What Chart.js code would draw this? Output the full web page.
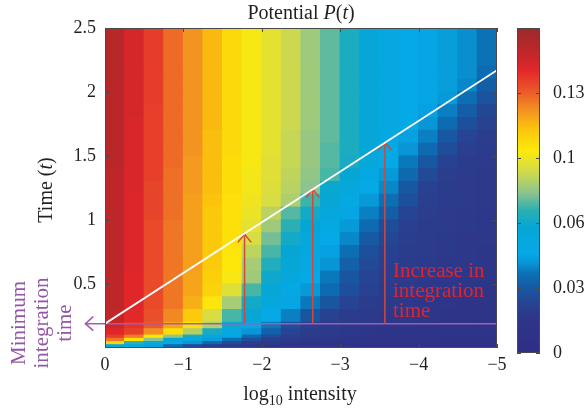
<!DOCTYPE html>
<html>
<head>
<meta charset="utf-8">
<script src="https://cdn.jsdelivr.net/npm/chart.js@4.4.1/dist/chart.umd.min.js"></script>
<style>
  html, body { margin: 0; padding: 0; background: #fff; }
  #wrap { position: relative; width: 586px; height: 414px; }
  canvas { position: absolute; left: 0; top: 0; }
</style>
</head>
<body>
<div id="wrap">
  <canvas id="field" width="586" height="414"></canvas>
  <canvas id="bar" width="586" height="414"></canvas>
</div>
<script>
// cell centres along log10 intensity (cells are 0.25 wide)
const intensityCols = [-0.125, -0.375, -0.625, -0.875, -1.125, -1.375, -1.625, -1.875, -2.125, -2.375,
                       -2.625, -2.875, -3.125, -3.375, -3.625, -3.875, -4.125, -4.375, -4.625, -4.875];
// band edges along time
const timeEdges = [0, 0.025, 0.05, 0.075, 0.1, 0.15, 0.2, 0.3, 0.4, 0.5, 0.6, 0.7, 0.8, 0.9, 1.0,
                   1.1, 1.2, 1.3, 1.4, 1.5, 1.6, 1.7, 1.8, 1.9, 2.0, 2.1, 2.2, 2.5];
// potential P(t) x 1000, first row = bottom band
const potentialRows = [
  [58, 54, 48, 37, 27, 22, 19, 17, 16, 15, 15, 14, 14, 13, 13, 13, 12, 12, 12, 12],
  [107, 71, 59, 52, 45, 37, 27, 22, 19, 17, 16, 16, 15, 15, 14, 14, 14, 13, 13, 13],
  [126, 104, 80, 63, 55, 47, 39, 29, 23, 20, 18, 17, 16, 16, 15, 15, 14, 14, 14, 13],
  [137, 125, 101, 81, 66, 57, 49, 37, 27, 22, 19, 18, 17, 16, 16, 15, 15, 15, 14, 14],
  [142, 136, 122, 105, 86, 67, 55, 45, 35, 25, 21, 19, 18, 17, 16, 16, 15, 15, 15, 14],
  [147, 139, 131, 118, 104, 86, 65, 53, 41, 29, 23, 20, 19, 18, 17, 17, 16, 16, 15, 15],
  [150, 141, 133, 123, 110, 92, 74, 61, 51, 42, 31, 24, 21, 19, 18, 17, 17, 16, 16, 15],
  [151, 142, 134, 126, 116, 103, 84, 66, 57, 49, 41, 31, 25, 21, 19, 18, 17, 17, 16, 16],
  [151, 142, 134, 126, 118, 108, 94, 74, 61, 53, 46, 38, 29, 24, 21, 19, 18, 17, 17, 16],
  [151, 142, 134, 126, 118, 109, 100, 83, 65, 57, 50, 41, 31, 25, 22, 20, 19, 18, 17, 17],
  [151, 143, 134, 126, 119, 110, 102, 84, 69, 61, 53, 45, 35, 27, 23, 21, 19, 18, 18, 17],
  [151, 143, 134, 126, 119, 111, 103, 88, 74, 63, 56, 48, 39, 29, 24, 21, 20, 19, 18, 17],
  [151, 143, 134, 126, 119, 111, 104, 92, 78, 66, 59, 51, 43, 33, 26, 22, 20, 19, 18, 18],
  [151, 143, 134, 126, 119, 111, 104, 95, 83, 71, 63, 54, 46, 38, 28, 23, 21, 20, 19, 18],
  [151, 143, 135, 127, 119, 111, 104, 97, 87, 75, 66, 57, 49, 42, 34, 25, 22, 20, 19, 18],
  [151, 143, 135, 127, 119, 112, 104, 98, 92, 85, 73, 62, 54, 46, 39, 29, 23, 21, 20, 19],
  [151, 144, 135, 127, 120, 113, 105, 99, 93, 87, 80, 64, 57, 50, 43, 32, 24, 21, 20, 19],
  [151, 144, 136, 127, 120, 113, 105, 99, 94, 88, 81, 74, 63, 53, 46, 37, 27, 22, 20, 19],
  [152, 144, 136, 128, 120, 113, 105, 100, 94, 89, 82, 75, 67, 58, 50, 41, 32, 24, 21, 20],
  [152, 144, 136, 128, 121, 113, 106, 100, 95, 89, 82, 75, 68, 60, 52, 45, 38, 28, 23, 21],
  [152, 144, 136, 128, 121, 113, 106, 100, 95, 89, 82, 76, 68, 60, 54, 48, 42, 32, 25, 22],
  [152, 144, 136, 128, 121, 114, 106, 100, 95, 90, 83, 76, 68, 60, 54, 50, 45, 38, 29, 24],
  [152, 145, 136, 128, 121, 114, 106, 100, 95, 90, 83, 76, 68, 60, 54, 51, 48, 42, 34, 26],
  [152, 145, 137, 128, 121, 114, 106, 100, 95, 90, 83, 76, 68, 60, 54, 51, 49, 46, 39, 30],
  [152, 145, 137, 128, 121, 114, 106, 100, 95, 90, 83, 76, 68, 60, 54, 51, 49, 47, 43, 34],
  [153, 145, 137, 128, 121, 114, 106, 100, 95, 90, 83, 76, 68, 60, 54, 51, 49, 47, 44, 38],
  [153, 145, 137, 128, 121, 114, 106, 100, 95, 90, 83, 76, 68, 60, 54, 51, 49, 47, 44, 40]
];

const xTickValues = [0, -1, -2, -3, -4, -5];
const xTickLabels = ['0', '\u22121', '\u22122', '\u22123', '\u22124', '\u22125'];
const yTickValues = [0.5, 1, 1.5, 2, 2.5];
const yTickLabels = ['0.5', '1', '1.5', '2', '2.5'];

// colour bar
const barMax = 0.1625;
const barTickValues = [0, 0.0325, 0.065, 0.0975, 0.13];
const barTickLabels = ['0', '0.03', '0.06', '0.1', '0.13'];
const cmapValues = [0, 0.015, 0.023, 0.033, 0.040, 0.045, 0.050, 0.063, 0.0715, 0.080, 0.0915, 0.1015, 0.1115, 0.120, 0.1307, 0.1415, 0.150, 0.1625];
const cmapColors = ['#2e2f87', '#2e3488', '#2a3f8f', '#165aa4', '#0b72b6', '#0896d6', '#05a9e6', '#06a6d4', '#2cb0b0', '#8cc38e',
                    '#d6dc46', '#fde90a', '#fbc60b', '#f49a1f', '#ea5a2a', '#e3262a', '#c0272a', '#9c2a2b'];

// overlays
const boundaryX = [0, -5, -5, 0, 0];
const boundaryT = [0.19, 2.17, 2.5, 2.5, 0.19];
const minTime = 0.19;
const minLineX = [0.25, -5];
const arrowX = [-1.78, -2.65, -3.57];
const arrowTop = [0.89, 1.24, 1.61];

const serif = '"Liberation Serif", "Times New Roman", serif';

function hexToRgb(h) {
  return [parseInt(h.slice(1, 3), 16), parseInt(h.slice(3, 5), 16), parseInt(h.slice(5, 7), 16)];
}

function colorFor(v) {
  let i = 0;
  while (i < cmapValues.length - 2 && v > cmapValues[i + 1]) i++;
  let f = (v - cmapValues[i]) / (cmapValues[i + 1] - cmapValues[i]);
  f = Math.min(1, Math.max(0, f));
  const a = hexToRgb(cmapColors[i]);
  const b = hexToRgb(cmapColors[i + 1]);
  return 'rgb(' + a.map((c, k) => Math.round(c + (b[k] - c) * f)).join(',') + ')';
}

function lineSet(points, color, width, clip) {
  const ds = {
    type: 'line',
    data: points,
    borderColor: color,
    borderWidth: width,
    pointRadius: 0,
    pointHoverRadius: 0,
    fill: false,
    tension: 0,
    order: 0
  };
  if (clip !== undefined) ds.clip = clip;
  return ds;
}

const fieldSets = potentialRows.map((row, r) => ({
  type: 'bar',
  data: intensityCols.map(x => ({ x: x, y: [timeEdges[r], timeEdges[r + 1]] })),
  backgroundColor: row.map(v => colorFor(v / 1000)),
  borderWidth: 0,
  grouped: false,
  barPercentage: 1,
  categoryPercentage: 1,
  inflateAmount: 0.6,
  order: 5
}));

const overlaySets = [];
overlaySets.push(lineSet(boundaryX.map((x, i) => ({ x: x, y: boundaryT[i] })), '#ffffff', 1.8));
arrowX.forEach((x, i) => {
  overlaySets.push(lineSet([{ x: x, y: minTime }, { x: x, y: arrowTop[i] }], '#d2493b', 1.5));
  overlaySets.push(lineSet([
    { x: x + 0.085, y: arrowTop[i] - 0.065 },
    { x: x, y: arrowTop[i] },
    { x: x - 0.085, y: arrowTop[i] - 0.065 }
  ], '#d2493b', 1.5));
});
overlaySets.push(lineSet(minLineX.map(x => ({ x: x, y: minTime })), '#a25db2', 1.6, false));
overlaySets.push(lineSet([
  { x: minLineX[0] - 0.1, y: minTime + 0.055 },
  { x: minLineX[0], y: minTime },
  { x: minLineX[0] - 0.1, y: minTime - 0.055 }
], '#a25db2', 1.6, false));

function drawRuns(ctx, runs, cx, baseline, size) {
  const fontOf = r => (r[1] ? 'italic ' : '') + Math.round(size * (r[2] || 1)) + 'px ' + serif;
  let total = 0;
  runs.forEach(r => { ctx.font = fontOf(r); total += ctx.measureText(r[0]).width; });
  let x = cx - total / 2;
  runs.forEach(r => {
    ctx.font = fontOf(r);
    ctx.fillText(r[0], x, baseline + (r[3] || 0));
    x += ctx.measureText(r[0]).width;
  });
}

const frameAndText = {
  id: 'frameAndText',
  afterDatasetsDraw(chart) {
    const { ctx, chartArea: a, scales } = chart;
    ctx.save();
    ctx.strokeStyle = '#4a4a4a';
    ctx.lineWidth = 1;
    ctx.strokeRect(a.left + 0.5, a.top + 0.5, a.right - a.left - 1, a.bottom - a.top - 1);
    ctx.beginPath();
    xTickValues.forEach(v => {
      const px = Math.round(scales.x.getPixelForValue(v)) + 0.5;
      ctx.moveTo(px, a.top); ctx.lineTo(px, a.top + 4);
      ctx.moveTo(px, a.bottom); ctx.lineTo(px, a.bottom - 4);
    });
    yTickValues.forEach(v => {
      const py = Math.round(scales.y.getPixelForValue(v)) + 0.5;
      ctx.moveTo(a.left, py); ctx.lineTo(a.left + 4, py);
      ctx.moveTo(a.right, py); ctx.lineTo(a.right - 4, py);
    });
    ctx.stroke();
    ctx.restore();
  },
  afterDraw(chart) {
    const ctx = chart.ctx;
    ctx.save();
    ctx.textAlign = 'left';
    ctx.textBaseline = 'alphabetic';
    ctx.fillStyle = '#231f20';
    drawRuns(ctx, [['Potential '], ['P', true], ['('], ['t', true], [')']], 301, 19, 20);
    drawRuns(ctx, [['log'], ['10', false, 0.7, 5], [' intensity']], 300, 400, 20);
    ctx.save();
    ctx.translate(52, 190);
    ctx.rotate(-Math.PI / 2);
    drawRuns(ctx, [['Time ('], ['t', true], [')']], 0, 0, 20);
    ctx.restore();

    ctx.fillStyle = '#e3232a';
    ctx.font = '21px ' + serif;
    ['Increase in', 'integration', 'time'].forEach((s, i) => ctx.fillText(s, 393, 277 + i * 20));

    ctx.fillStyle = '#9457a5';
    ctx.save();
    ctx.translate(0, 323);
    ctx.rotate(-Math.PI / 2);
    ['Minimum', 'integration', 'time'].forEach((s, i) => drawRuns(ctx, [[s]], 0, 25 + i * 23, 21));
    ctx.restore();
    ctx.restore();
  }
};

new Chart(document.getElementById('field'), {
  type: 'bar',
  data: { datasets: overlaySets.concat(fieldSets) },
  options: {
    responsive: false,
    animation: false,
    events: [],
    layout: { padding: { left: 45, top: 28, right: 89, bottom: 26 } },
    plugins: { legend: { display: false }, title: { display: false }, tooltip: { enabled: false } },
    scales: {
      x: {
        type: 'linear', min: -5, max: 0, reverse: true, offset: false,
        grid: { display: false, drawTicks: false, offset: false },
        border: { display: false },
        afterBuildTicks: s => { s.ticks = xTickValues.map(v => ({ value: v })); },
        afterFit: s => { s.height = 40; },
        ticks: {
          padding: 6, color: '#231f20', maxRotation: 0,
          font: { family: serif, size: 18 },
          callback: v => xTickLabels[xTickValues.indexOf(v)]
        }
      },
      y: {
        type: 'linear', min: 0, max: 2.5,
        grid: { display: false, drawTicks: false },
        border: { display: false },
        afterBuildTicks: s => { s.ticks = yTickValues.map(v => ({ value: v })); },
        afterFit: s => { s.width = 60; },
        ticks: {
          padding: 9, color: '#231f20',
          font: { family: serif, size: 18 },
          callback: v => yTickLabels[yTickValues.indexOf(v)]
        }
      }
    }
  },
  plugins: [frameAndText]
});

function barFill(context) {
  const chart = context.chart;
  if (!chart.chartArea) return cmapColors[0];
  const y = chart.scales.y;
  const g = chart.ctx.createLinearGradient(0, y.getPixelForValue(0), 0, y.getPixelForValue(barMax));
  cmapValues.forEach((v, i) => g.addColorStop(v / barMax, cmapColors[i]));
  return g;
}

const barFrame = {
  id: 'barFrame',
  afterDatasetsDraw(chart) {
    const { ctx, chartArea: a, scales } = chart;
    ctx.save();
    ctx.strokeStyle = '#4a4a4a';
    ctx.lineWidth = 1;
    ctx.strokeRect(a.left + 0.5, a.top + 0.5, a.right - a.left - 1, a.bottom - a.top - 1);
    ctx.beginPath();
    barTickValues.forEach(v => {
      const py = Math.round(scales.y.getPixelForValue(v)) + 0.5;
      ctx.moveTo(a.left, py); ctx.lineTo(a.left + 4, py);
      ctx.moveTo(a.right, py); ctx.lineTo(a.right - 4, py);
    });
    ctx.stroke();
    ctx.restore();
  }
};

new Chart(document.getElementById('bar'), {
  type: 'bar',
  data: {
    labels: ['P'],
    datasets: [{ data: [[0, barMax]], backgroundColor: barFill, borderWidth: 0, barPercentage: 1, categoryPercentage: 1 }]
  },
  options: {
    responsive: false,
    animation: false,
    events: [],
    layout: { padding: { left: 517, top: 28, right: 0, bottom: 61 } },
    plugins: { legend: { display: false }, title: { display: false }, tooltip: { enabled: false } },
    scales: {
      x: { display: false },
      y: {
        position: 'right', min: 0, max: barMax,
        grid: { display: false, drawTicks: false },
        border: { display: false },
        afterBuildTicks: s => { s.ticks = barTickValues.map(v => ({ value: v })); },
        afterFit: s => { s.width = 46; },
        ticks: {
          padding: 13, color: '#231f20',
          font: { family: serif, size: 18 },
          callback: v => barTickLabels[barTickValues.indexOf(v)]
        }
      }
    }
  },
  plugins: [barFrame]
});
</script>
</body>
</html>
